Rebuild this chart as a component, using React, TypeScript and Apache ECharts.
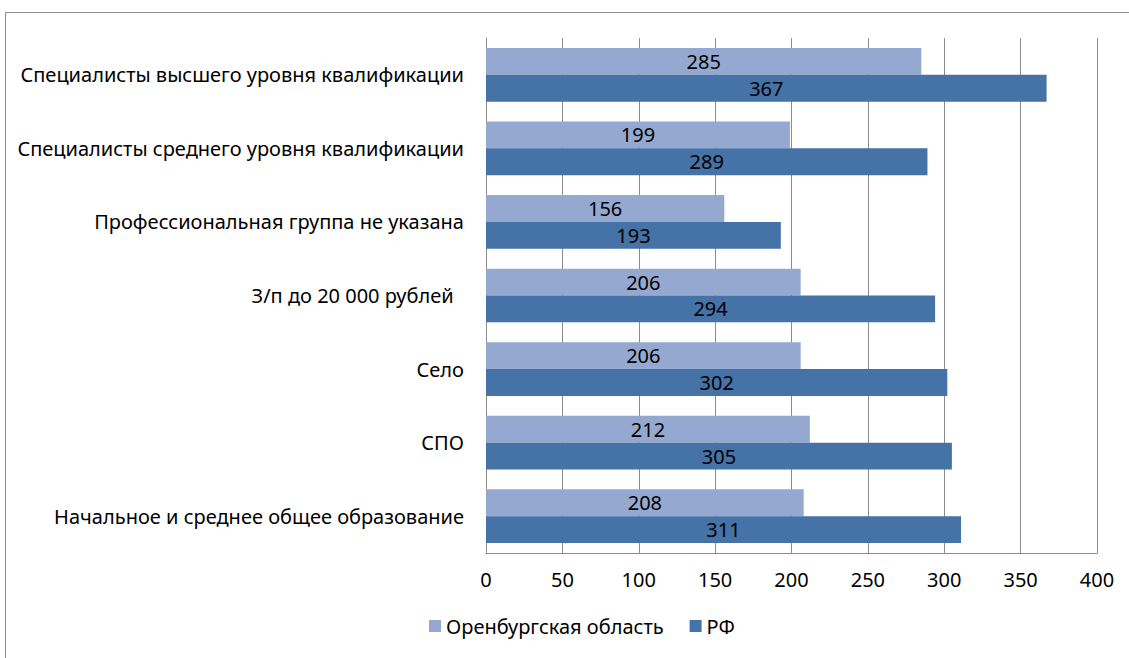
import React, { useEffect, useRef } from "react";
import * as echarts from "echarts";

const categories = [
  "Специалисты высшего уровня квалификации",
  "Специалисты среднего уровня квалификации",
  "Профессиональная группа не указана",
  "З/п до 20 000 рублей  ",
  "Село",
  "СПО",
  "Начальное и среднее общее образование",
];
const orenburg = [285, 199, 156, 206, 206, 212, 208];
const rf = [367, 289, 193, 294, 302, 305, 311];
const seriesNames = ["Оренбургская область", "РФ"];

const FONT = "Noto Sans";
const FS = 20;

export default function App() {
  const ref = useRef<HTMLDivElement>(null);
  useEffect(() => {
    if (!ref.current) return;
    const chart = echarts.init(ref.current, null, { renderer: "svg" });
    const label = {
      show: true,
      position: "inside",
      color: "#000",
      fontFamily: FONT,
      fontSize: FS,
    };
    chart.setOption({
      animation: false,
      backgroundColor: "#fff",
      textStyle: { fontFamily: FONT },
      graphic: [
        {
          type: "rect",
          shape: { x: 5.5, y: 12.5, width: 1140, height: 700 },
          style: { fill: "none", stroke: "#8c8c8c", lineWidth: 1 },
          silent: true,
        },
      ],
      legend: {
        bottom: 17,
        left: 424,
        itemWidth: 12,
        itemHeight: 12,
        itemGap: 26,
        icon: "rect",
        textStyle: { fontFamily: FONT, fontSize: FS, color: "#000" },
        data: seriesNames,
      },
      grid: { left: 486, right: 32, top: 38, bottom: 105 },
      xAxis: {
        type: "value",
        min: 0,
        max: 400,
        interval: 50,
        axisLine: { show: true, lineStyle: { color: "#8c8c8c" } },
        axisTick: { show: false },
        axisLabel: { color: "#000", fontSize: FS, fontFamily: FONT, margin: 16 },
        splitLine: { show: true, lineStyle: { color: "#8c8c8c" } },
      },
      yAxis: {
        type: "category",
        data: categories,
        inverse: true,
        axisLine: { show: true, lineStyle: { color: "#8c8c8c" } },
        axisTick: { show: false },
        axisLabel: { color: "#000", fontSize: FS, fontFamily: FONT, margin: 22 },
      },
      series: [
        {
          name: seriesNames[0],
          type: "bar",
          data: orenburg,
          itemStyle: { color: "#95A9D0" },
          barGap: "0%",
          barCategoryGap: "27%",
          label,
        },
        {
          name: seriesNames[1],
          type: "bar",
          data: rf,
          itemStyle: { color: "#4572A7" },
          barGap: "0%",
          barCategoryGap: "27%",
          label,
        },
      ],
    });
    return () => chart.dispose();
  }, []);
  return (
    <div
      ref={ref}
      style={{ position: "absolute", left: 0, top: 0, width: 1129, height: 658 }}
    />
  );
}
